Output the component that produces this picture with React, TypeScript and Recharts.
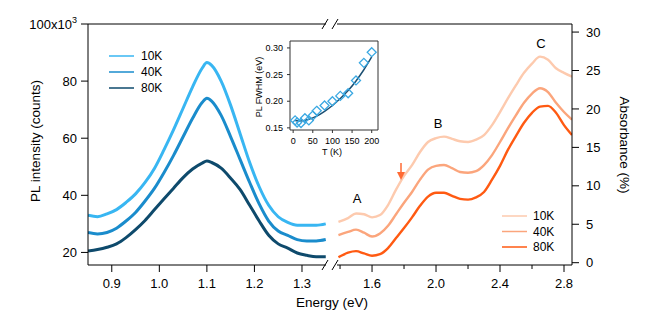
import { ComposedChart, Line, LineChart, ReferenceLine, Scatter, XAxis, YAxis } from "recharts";

const W = 656;
const H = 328;
const PLOT_BOTTOM = 265;

// PL spectra, energy (eV) vs intensity (x10^3 counts)
const plEnergy = [0.85, 0.87, 0.89, 0.91, 0.93, 0.95, 0.97, 0.99, 1.01, 1.03, 1.05, 1.07, 1.09, 1.1, 1.11, 1.13, 1.15, 1.17, 1.19, 1.21, 1.23, 1.25, 1.27, 1.29, 1.31, 1.33, 1.35];
const pl10K = [33, 32.5, 33.5, 35, 37.5, 40.5, 44.5, 49.5, 56, 63, 70.5, 78, 84.5, 86.5, 85.5, 80, 71.5, 61.5, 51.5, 43, 36.5, 32.5, 30.5, 29.5, 29.5, 29.5, 30];
const pl40K = [27, 26.5, 27, 28.5, 31, 34, 38, 42.5, 48, 54, 60.5, 67, 72.5, 74, 73, 68, 60.5, 52.5, 44.5, 37, 31, 27.5, 26, 24.5, 24, 24, 24.5];
const pl80K = [20.5, 21, 21.8, 23, 25.2, 28, 31.2, 35, 38.8, 42.5, 46.2, 49.2, 51.3, 52, 51.5, 49.5, 46, 42, 36.5, 31, 26, 23, 21.5, 19.8, 19, 18.5, 18.5];

// absorbance spectra, energy (eV) vs absorbance (%)
const absEnergy = [1.39, 1.45, 1.5, 1.55, 1.6, 1.65, 1.7, 1.75, 1.8, 1.85, 1.9, 1.95, 2.0, 2.05, 2.1, 2.15, 2.2, 2.25, 2.3, 2.35, 2.4, 2.45, 2.5, 2.55, 2.6, 2.65, 2.7, 2.75, 2.8, 2.85];
const abs10K = [5.3, 5.8, 6.4, 6.3, 5.9, 6.2, 7.5, 9.5, 11.3, 12.7, 14.4, 15.7, 16.2, 16.4, 16.1, 15.8, 15.7, 16.0, 16.6, 17.9, 19.6, 21.4, 23.1, 24.7, 25.9, 26.8, 26.4, 25.3, 24.7, 24.2];
const abs40K = [3.6, 4.0, 4.3, 3.9, 3.4, 3.8, 4.8, 6.3, 7.8, 9.2, 10.8, 12.1, 12.6, 12.7, 12.3, 11.8, 11.7, 11.9, 12.7, 14.0, 15.7, 17.5, 19.2, 20.8, 22.0, 22.7, 22.2, 20.8, 19.6, 18.6];
const abs80K = [0.7, 1.3, 1.5, 1.2, 0.9, 1.1, 1.9, 3.2, 4.5, 5.9, 7.4, 8.6, 9.1, 9.1, 8.7, 8.3, 8.2, 8.5, 9.2, 10.8, 12.6, 14.7, 16.5, 18.2, 19.5, 20.3, 20.4, 19.5, 17.9, 16.6];

// inset: FWHM vs temperature
const fwhmT = [5, 10, 20, 30, 40, 50, 60, 80, 100, 120, 140, 160, 180, 200];
const fwhmVal = [0.164, 0.16, 0.159, 0.168, 0.164, 0.173, 0.182, 0.192, 0.2, 0.21, 0.215, 0.239, 0.272, 0.292];
const fitT = [5, 20, 40, 60, 80, 100, 120, 140, 160, 180, 200];
const fitVal = [0.164, 0.163, 0.166, 0.172, 0.181, 0.192, 0.205, 0.22, 0.238, 0.259, 0.283];

const plTicks = [0.9, 1.0, 1.1, 1.2, 1.3];
const absTicks = [1.4, 1.6, 1.8, 2.0, 2.2, 2.4, 2.6, 2.8];
const absMajor = [1.6, 2.0, 2.4, 2.8];
const labels = ["10K", "40K", "80K"];
const blues = ["#38b6f2", "#1a8ccc", "#0e4a6c"];
const oranges = ["#fdcaae", "#fba57c", "#ff5a12"];

const plRows = plEnergy.map((e, i) => ({ e, k10: pl10K[i], k40: pl40K[i], k80: pl80K[i] }));
const absRows = absEnergy.map((e, i) => ({ e, k10: abs10K[i], k40: abs40K[i], k80: abs80K[i] }));
const fwhmRows = fwhmT.map((t, i) => ({ t, w: fwhmVal[i] }));
const fitRows = fitT.map((t, i) => ({ t, w: fitVal[i] }));

const keys = ["k10", "k40", "k80"];

function PlYTick({ x, y, payload }: any) {
  const v = payload.value;
  return (
    <text x={x} y={y} dy={4.5} textAnchor="end" fill="#000" fontSize={13}>
      {v === 100 ? (
        <>
          100x10<tspan dy={-6} fontSize={9}>3</tspan>
        </>
      ) : (
        v
      )}
    </text>
  );
}

function AbsXTick({ x, payload }: any) {
  const major = absMajor.includes(payload.value);
  return (
    <g>
      <line x1={x} x2={x} y1={PLOT_BOTTOM} y2={PLOT_BOTTOM + (major ? 7 : 4)} stroke="#000" />
      {major && (
        <text x={x} y={PLOT_BOTTOM + 14} dy="0.71em" textAnchor="middle" fill="#000" fontSize={13}>
          {payload.value.toFixed(1)}
        </text>
      )}
    </g>
  );
}

function Diamond({ cx, cy }: any) {
  const r = 4.5;
  return <path d={`M${cx},${cy - r}L${cx + r},${cy}L${cx},${cy + r}L${cx - r},${cy}Z`} fill="none" stroke="#3aa8e2" strokeWidth={1.3} />;
}

function Slash({ x, y }: { x: number; y: number }) {
  return <line x1={x - 3} y1={y + 5} x2={x + 3} y2={y - 5} stroke="#000" strokeWidth={1} />;
}

export default function App() {
  return (
    <div style={{ position: "absolute", left: 0, top: 0, width: W, height: H, background: "#fff", fontFamily: "'Liberation Sans', Arial, sans-serif" }}>
      <div style={{ position: "absolute", left: 0, top: 0 }}>
        <LineChart width={W} height={H} data={plRows} margin={{ top: 24, right: 330, bottom: 33, left: 0 }}>
          <XAxis type="number" dataKey="e" domain={[0.85, 1.3505]} allowDataOverflow ticks={plTicks} interval={0}
            tickFormatter={(v) => v.toFixed(1)} tick={{ fill: "#000", fontSize: 13 }} tickSize={7} tickMargin={7} height={30} stroke="#000" />
          <YAxis type="number" domain={[15.6, 100]} allowDataOverflow ticks={[20, 40, 60, 80, 100]} interval={0}
            tick={<PlYTick />} tickSize={7} tickMargin={4} width={88} stroke="#000" />
          <ReferenceLine y={100} stroke="#000" />
          {[2, 1, 0].map((i) => (
            <Line key={keys[i]} type="monotone" dataKey={keys[i]} stroke={blues[i]} strokeWidth={3} dot={false} isAnimationActive={false} />
          ))}
        </LineChart>
      </div>
      <div style={{ position: "absolute", left: 0, top: 0 }}>
        <LineChart width={W} height={H} data={absRows} margin={{ top: 24, right: 0, bottom: 33, left: 337 }}>
          <XAxis type="number" dataKey="e" domain={[1.381, 2.85]} allowDataOverflow ticks={absTicks} interval={0}
            tick={<AbsXTick />} tickLine={false} height={30} stroke="#000" />
          <YAxis type="number" orientation="right" domain={[-0.3, 31.05]} allowDataOverflow ticks={[0, 5, 10, 15, 20, 25, 30]} interval={0}
            tick={{ fill: "#000", fontSize: 13 }} tickSize={7} tickMargin={7} width={84} stroke="#000" />
          <ReferenceLine y={31.05} stroke="#000" />
          {[0, 1, 2].map((i) => (
            <Line key={keys[i]} type="monotone" dataKey={keys[i]} stroke={oranges[i]} strokeWidth={2.4} dot={false} isAnimationActive={false} />
          ))}
        </LineChart>
      </div>
      <div style={{ position: "absolute", left: 230, top: 30 }}>
        <ComposedChart width={160} height={135} margin={{ top: 11, right: 12, bottom: 13, left: 20 }}>
          <XAxis type="number" dataKey="t" domain={[-8, 216]} allowDataOverflow ticks={[0, 50, 100, 150, 200]} interval={0}
            tick={{ fill: "#000", fontSize: 9 }} tickSize={3} tickMargin={5} height={22} stroke="#333" />
          <YAxis type="number" dataKey="w" domain={[0.146, 0.313]} allowDataOverflow ticks={[0.15, 0.2, 0.25, 0.3]} interval={0}
            tickFormatter={(v) => v.toFixed(2)} tick={{ fill: "#000", fontSize: 9 }} tickSize={3} tickMargin={4} width={40} stroke="#333" />
          <ReferenceLine y={0.313} stroke="#333" />
          <ReferenceLine x={216} stroke="#333" />
          <Line data={fitRows} dataKey="w" type="monotone" stroke="#1c4f72" strokeWidth={1.5} dot={false} isAnimationActive={false} />
          <Scatter data={fwhmRows} dataKey="w" shape={<Diamond />} isAnimationActive={false} />
        </ComposedChart>
      </div>
      <svg width={W} height={H} style={{ position: "absolute", left: 0, top: 0, pointerEvents: "none" }}>
        <rect x={327} y={15} width={9} height={20} fill="#fff" />
        <rect x={327} y={256} width={9} height={20} fill="#fff" />
        <Slash x={325} y={24} />
        <Slash x={335} y={24} />
        <Slash x={325} y={265} />
        <Slash x={335} y={265} />
        <text transform="translate(40,141) rotate(-90)" textAnchor="middle" fontSize={13.5} fill="#000">PL intensity (counts)</text>
        <text transform="translate(620,145) rotate(90)" textAnchor="middle" fontSize={13.5} fill="#000">Absorbance (%)</text>
        <text x={332} y={307} textAnchor="middle" fontSize={13.5} fill="#000">Energy (eV)</text>
        <text transform="translate(262,87) rotate(-90)" textAnchor="middle" fontSize={9} fill="#000">PL FWHM (eV)</text>
        <text x={332} y={155} textAnchor="middle" fontSize={9} fill="#000">T (K)</text>
        {labels.map((l, i) => (
          <g key={"pl" + l}>
            <line x1={109} x2={134} y1={56 + i * 16} y2={56 + i * 16} stroke={blues[i]} strokeWidth={1.5} />
            <text x={141} y={56 + i * 16} dy={4.3} fontSize={12} fill="#000">{l}</text>
          </g>
        ))}
        {labels.map((l, i) => (
          <g key={"abs" + l}>
            <line x1={502} x2={527} y1={216 + i * 15.5} y2={216 + i * 15.5} stroke={oranges[i]} strokeWidth={1.5} />
            <text x={533} y={216 + i * 15.5} dy={4.3} fontSize={12} fill="#000">{l}</text>
          </g>
        ))}
        <text x={357} y={203} textAnchor="middle" fontSize={13} fill="#000">A</text>
        <text x={438} y={128} textAnchor="middle" fontSize={13} fill="#000">B</text>
        <text x={541} y={48} textAnchor="middle" fontSize={13} fill="#000">C</text>
        <line x1={401} x2={401} y1={163} y2={174} stroke="#ff6a33" strokeWidth={1.5} />
        <polygon points="397,172 405,172 401,180" fill="#ff6a33" />
      </svg>
    </div>
  );
}
